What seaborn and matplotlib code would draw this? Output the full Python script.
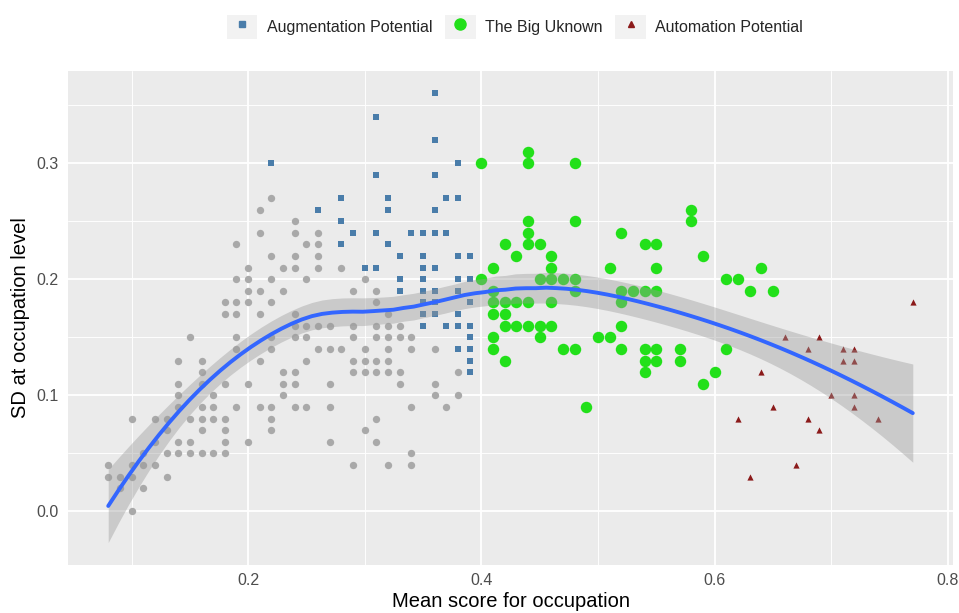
import numpy as np
import pandas as pd
import matplotlib
matplotlib.use("Agg")
import matplotlib.pyplot as plt
import seaborn as sns
from matplotlib.patches import Rectangle
from matplotlib.lines import Line2D
from matplotlib.ticker import MultipleLocator

# (mean score, SD), row by row
gray_pts = [
    (0.22, 0.27), (0.21, 0.26), (0.24, 0.25),
    (0.21, 0.24), (0.24, 0.24), (0.26, 0.24),
    (0.19, 0.23), (0.25, 0.23), (0.26, 0.23),
    (0.22, 0.22), (0.24, 0.22), (0.26, 0.22),
    (0.20, 0.21), (0.23, 0.21), (0.24, 0.21), (0.26, 0.21), (0.28, 0.21),
    (0.19, 0.20), (0.20, 0.20), (0.22, 0.20), (0.25, 0.20), (0.30, 0.20),
    (0.20, 0.19), (0.21, 0.19), (0.23, 0.19), (0.29, 0.19), (0.31, 0.19),
    (0.18, 0.18), (0.19, 0.18), (0.20, 0.18), (0.22, 0.18), (0.31, 0.18),
    (0.18, 0.17), (0.19, 0.17), (0.21, 0.17), (0.24, 0.17), (0.32, 0.17),
    (0.24, 0.16), (0.25, 0.16), (0.26, 0.16), (0.27, 0.16), (0.29, 0.16),
    (0.31, 0.16), (0.32, 0.16), (0.33, 0.16),
    (0.15, 0.15), (0.19, 0.15), (0.22, 0.15), (0.24, 0.15), (0.25, 0.15),
    (0.29, 0.15), (0.31, 0.15), (0.32, 0.15), (0.33, 0.15), (0.34, 0.15),
    (0.19, 0.14), (0.22, 0.14), (0.26, 0.14), (0.27, 0.14), (0.28, 0.14),
    (0.30, 0.14), (0.32, 0.14), (0.34, 0.14), (0.36, 0.14),
    (0.14, 0.13), (0.16, 0.13), (0.21, 0.13), (0.25, 0.13), (0.29, 0.13),
    (0.30, 0.13), (0.31, 0.13), (0.32, 0.13),
    (0.16, 0.12), (0.23, 0.12), (0.24, 0.12), (0.29, 0.12), (0.30, 0.12),
    (0.31, 0.12), (0.32, 0.12), (0.33, 0.12), (0.38, 0.12),
    (0.14, 0.11), (0.16, 0.11), (0.18, 0.11), (0.20, 0.11), (0.23, 0.11),
    (0.24, 0.11), (0.27, 0.11), (0.33, 0.11), (0.36, 0.11),
    (0.14, 0.10), (0.17, 0.10), (0.23, 0.10), (0.36, 0.10), (0.38, 0.10),
    (0.14, 0.09), (0.16, 0.09), (0.17, 0.09), (0.19, 0.09), (0.21, 0.09),
    (0.22, 0.09), (0.24, 0.09), (0.25, 0.09), (0.27, 0.09), (0.34, 0.09),
    (0.37, 0.09),
    (0.10, 0.08), (0.12, 0.08), (0.13, 0.08), (0.15, 0.08), (0.16, 0.08),
    (0.17, 0.08), (0.18, 0.08), (0.22, 0.08), (0.31, 0.08),
    (0.13, 0.07), (0.16, 0.07), (0.18, 0.07), (0.22, 0.07), (0.30, 0.07),
    (0.12, 0.06), (0.14, 0.06), (0.15, 0.06), (0.18, 0.06), (0.20, 0.06),
    (0.27, 0.06), (0.31, 0.06),
    (0.11, 0.05), (0.13, 0.05), (0.14, 0.05), (0.15, 0.05), (0.16, 0.05),
    (0.17, 0.05), (0.18, 0.05), (0.34, 0.05),
    (0.08, 0.04), (0.10, 0.04), (0.11, 0.04), (0.12, 0.04), (0.29, 0.04),
    (0.32, 0.04), (0.34, 0.04),
    (0.08, 0.03), (0.09, 0.03), (0.10, 0.03), (0.13, 0.03),
    (0.09, 0.02), (0.11, 0.02), (0.10, 0.00),
]

augment_pts = [
    (0.36, 0.36), (0.31, 0.34), (0.36, 0.32), (0.22, 0.30), (0.38, 0.30),
    (0.31, 0.29), (0.36, 0.29),
    (0.28, 0.27), (0.32, 0.27), (0.37, 0.27), (0.38, 0.27),
    (0.26, 0.26), (0.32, 0.26), (0.36, 0.26), (0.28, 0.25),
    (0.29, 0.24), (0.31, 0.24), (0.34, 0.24), (0.35, 0.24), (0.36, 0.24),
    (0.37, 0.24),
    (0.28, 0.23), (0.32, 0.23),
    (0.33, 0.22), (0.35, 0.22), (0.38, 0.22), (0.39, 0.22),
    (0.30, 0.21), (0.31, 0.21), (0.35, 0.21), (0.36, 0.21),
    (0.33, 0.20), (0.35, 0.20), (0.38, 0.20), (0.39, 0.20),
    (0.33, 0.19), (0.35, 0.19), (0.36, 0.19), (0.38, 0.19),
    (0.35, 0.18), (0.36, 0.18), (0.39, 0.18),
    (0.35, 0.17), (0.36, 0.17), (0.38, 0.17),
    (0.35, 0.16), (0.37, 0.16), (0.38, 0.16), (0.39, 0.16),
    (0.39, 0.15), (0.38, 0.14), (0.39, 0.14), (0.39, 0.13), (0.39, 0.12),
]

unknown_pts = [
    (0.44, 0.31), (0.40, 0.30), (0.44, 0.30), (0.48, 0.30),
    (0.58, 0.26), (0.44, 0.25), (0.48, 0.25), (0.58, 0.25),
    (0.44, 0.24), (0.52, 0.24),
    (0.42, 0.23), (0.44, 0.23), (0.45, 0.23), (0.54, 0.23), (0.55, 0.23),
    (0.43, 0.22), (0.46, 0.22), (0.59, 0.22),
    (0.41, 0.21), (0.46, 0.21), (0.51, 0.21), (0.55, 0.21), (0.64, 0.21),
    (0.40, 0.20), (0.45, 0.20), (0.46, 0.20), (0.47, 0.20), (0.48, 0.20),
    (0.61, 0.20), (0.62, 0.20),
    (0.41, 0.19), (0.48, 0.19), (0.52, 0.19), (0.53, 0.19), (0.54, 0.19),
    (0.55, 0.19), (0.63, 0.19), (0.65, 0.19),
    (0.41, 0.18), (0.42, 0.18), (0.43, 0.18), (0.44, 0.18), (0.46, 0.18),
    (0.52, 0.18),
    (0.41, 0.17), (0.42, 0.17),
    (0.42, 0.16), (0.43, 0.16), (0.44, 0.16), (0.45, 0.16), (0.46, 0.16),
    (0.52, 0.16),
    (0.41, 0.15), (0.45, 0.15), (0.50, 0.15), (0.51, 0.15),
    (0.41, 0.14), (0.47, 0.14), (0.48, 0.14), (0.52, 0.14), (0.54, 0.14),
    (0.55, 0.14), (0.57, 0.14), (0.61, 0.14),
    (0.42, 0.13), (0.54, 0.13), (0.55, 0.13), (0.57, 0.13),
    (0.54, 0.12), (0.60, 0.12), (0.59, 0.11), (0.49, 0.09),
]

automate_pts = [
    (0.77, 0.18), (0.66, 0.15), (0.69, 0.15), (0.68, 0.14), (0.71, 0.14),
    (0.72, 0.14), (0.71, 0.13), (0.72, 0.13), (0.64, 0.12), (0.70, 0.10),
    (0.72, 0.10), (0.65, 0.09), (0.72, 0.09), (0.62, 0.08), (0.68, 0.08),
    (0.74, 0.08), (0.69, 0.07), (0.67, 0.04), (0.63, 0.03),
]

labels = ["Augmentation Potential", "The Big Uknown", "Automation Potential"]


def to_df(pts):
    return pd.DataFrame(pts, columns=["mean", "sd"])


gray = to_df(gray_pts)
aug = to_df(augment_pts)
unk = to_df(unknown_pts)
aut = to_df(automate_pts)
everything = pd.concat([gray, aug, unk, aut], ignore_index=True)

# loess (local quadratic, span 0.75, tricube) like geom_smooth's default
x = everything["mean"].to_numpy()
y = everything["sd"].to_numpy()
n = len(x)
span = 0.75
q = int(np.floor(n * span))


def loess_row(x0):
    d = np.abs(x - x0)
    h = np.sort(d)[q - 1]
    u = d / h
    w = np.where(u < 1, (1 - u ** 3) ** 3, 0.0)
    X = np.column_stack([np.ones(n), x - x0, (x - x0) ** 2])
    XtW = X.T * w
    return np.linalg.solve(XtW @ X, XtW)[0]


L = np.array([loess_row(v) for v in x])
resid = y - L @ y
IL = np.eye(n) - L
delta1 = np.trace(IL.T @ IL)
sigma = np.sqrt(np.sum(resid ** 2) / delta1)

grid_x = np.linspace(x.min(), x.max(), 80)
rows = np.array([loess_row(v) for v in grid_x])
fit = rows @ y
se = sigma * np.sqrt((rows ** 2).sum(axis=1))
lo, hi = fit - 1.968 * se, fit + 1.968 * se
smooth = pd.DataFrame({"mean": grid_x, "sd": fit})

# ggplot-like look
sns.set_theme(style="darkgrid", rc={
    "axes.facecolor": "#EBEBEB",
    "grid.color": "white",
    "axes.edgecolor": "none",
})
plt.rcParams["font.family"] = ["Liberation Sans", "DejaVu Sans"]

fig = plt.figure(figsize=(9.59, 6.13), dpi=100)
ax = fig.add_axes([68 / 959, 1 - 565 / 613, 885 / 959, 494 / 613])

sns.scatterplot(data=gray, x="mean", y="sd", color="#A9A9A9", s=28,
                linewidth=0, ax=ax, zorder=3)
sns.scatterplot(data=aug, x="mean", y="sd", color="#4A7DAA", marker="s",
                s=15, linewidth=0, ax=ax, zorder=3)
sns.scatterplot(data=unk, x="mean", y="sd", color="#22E01A", s=68,
                linewidth=0, ax=ax, zorder=3)
sns.scatterplot(data=aut, x="mean", y="sd", color="#8B1A1A", marker="^",
                s=20, linewidth=0, ax=ax, zorder=3)

ax.fill_between(grid_x, lo, hi, color="#999999", alpha=0.4, linewidth=0,
                zorder=4)
sns.lineplot(data=smooth, x="mean", y="sd", color="#3366FF", linewidth=2.8,
             ax=ax, zorder=5)

# limits with ggplot's 5% expansion
xr = x.max() - x.min()
ax.set_xlim(x.min() - 0.05 * xr, x.max() + 0.05 * xr)
ymin, ymax = min(y.min(), lo.min()), max(y.max(), hi.max())
yr = ymax - ymin
ax.set_ylim(ymin - 0.05 * yr, ymax + 0.05 * yr)

ax.xaxis.set_major_locator(MultipleLocator(0.2))
ax.xaxis.set_minor_locator(MultipleLocator(0.1))
ax.yaxis.set_major_locator(MultipleLocator(0.1))
ax.yaxis.set_minor_locator(MultipleLocator(0.05))
ax.grid(which="major", color="white", linewidth=1.3)
ax.grid(which="minor", color="white", linewidth=0.65)
ax.tick_params(axis="both", which="major", length=3.5, width=0.9,
               color="#333333", labelcolor="#4D4D4D", labelsize=11.5)
ax.tick_params(axis="x", pad=2)
ax.tick_params(axis="y", pad=3)
ax.tick_params(which="minor", length=0)
ax.set_xlabel("Mean score for occupation", fontsize=14.5, color="black",
              labelpad=3)
ax.set_ylabel("SD at occupation level", fontsize=14.5, color="black",
              labelpad=5)

# legend on top, grey key boxes like ggplot
key = "#F2F2F2"
handles = [
    (Rectangle((0, 0), 1, 1, facecolor=key, edgecolor="none"),
     Line2D([], [], marker="s", linestyle="", color="#4A7DAA", markersize=3.8)),
    (Rectangle((0, 0), 1, 1, facecolor=key, edgecolor="none"),
     Line2D([], [], marker="o", linestyle="", color="#22E01A", markersize=8)),
    (Rectangle((0, 0), 1, 1, facecolor=key, edgecolor="none"),
     Line2D([], [], marker="^", linestyle="", color="#8B1A1A", markersize=4.5)),
]
fig.legend(handles, labels, loc="center", bbox_to_anchor=(515 / 959, 1 - 27 / 613),
           ncol=3, frameon=False, fontsize=11.5, handlelength=1.9,
           handleheight=1.9, handletextpad=0.6, columnspacing=0.8)

fig.savefig("out.png", dpi=100)
